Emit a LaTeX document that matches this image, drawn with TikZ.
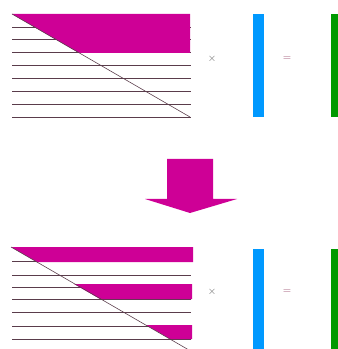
\documentclass[tikz,border=0pt]{standalone}
\usepackage{xcolor}
\definecolor{mag}{RGB}{206,0,150}
\definecolor{vecblue}{RGB}{0,153,255}
\definecolor{vecgreen}{RGB}{0,153,0}
\definecolor{rowline}{RGB}{90,60,75}
\definecolor{opmark}{RGB}{165,95,125}

\begin{document}
\begin{tikzpicture}[x=0.03cm,y=-0.03cm,every node/.style={font=\small},
    row/.style={rowline,line width=0.5pt}]
    \useasboundingbox (0,0) rectangle (337,349);
    % top matrix
    \foreach \k in {1,...,8}
      \draw[row] (12,{14+12.875*\k}) -- (191,{14+12.875*\k});
    \fill[mag] (12,14) -- (190,14) -- (190,53) -- (79,53) -- cycle;
    \draw[row] (12,14) -- (190,117);
    % top product
    \node[gray!80!black] (times1) at (212,59) {$\times$};
    \fill[vecblue] (253,14) rectangle (264,117);
    \node[opmark] (eq1) at (287,59) {$=$};
    \fill[vecgreen] (331,14) rectangle (342,117);
    % arrow
    \fill[mag] (167,159) -- (213,159) -- (213,199) -- (237,199) -- (190,213)
      -- (145,199) -- (167,199) -- cycle;
    % bottom matrix
    \foreach \y in {261,275,287,299,312,326,339}
      \draw[row] (12,\y) -- (191,\y);
    \fill[mag] (11,247) -- (193,247) -- (193,262) -- (37,262) -- cycle;
    \fill[mag] (74,284) -- (192,284) -- (192,299) -- (100,299) -- cycle;
    \fill[mag] (146,325) -- (192,325) -- (192,339) -- (170,339) -- cycle;
    \draw[row] (11,247) -- (188,349.5);
    % bottom product
    \node[gray!80!black] (times2) at (212,292) {$\times$};
    \fill[vecblue] (253,249) rectangle (264,349);
    \node[opmark] (eq2) at (287,292) {$=$};
    \fill[vecgreen] (331,249) rectangle (342,349);
\end{tikzpicture}
\end{document}
